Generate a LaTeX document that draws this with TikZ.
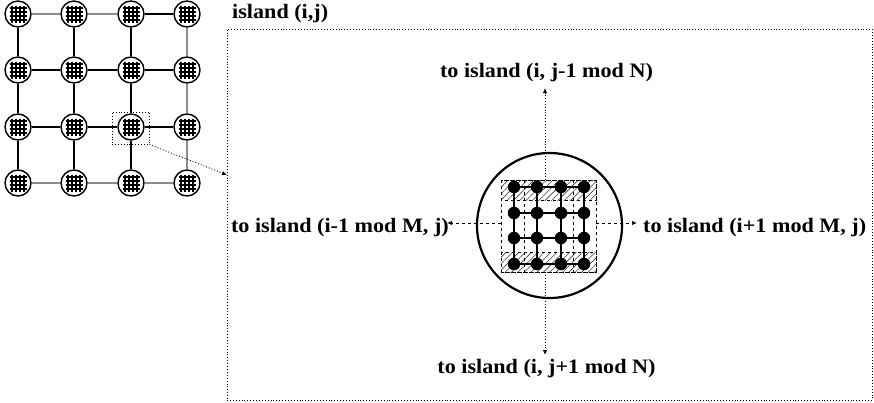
\documentclass[tikz,border=0pt]{standalone}
\usepackage{fontspec}
\setmainfont[FakeStretch=1.08]{Liberation Serif}
\usetikzlibrary{arrows.meta,patterns.meta}
\begin{document}
\begin{tikzpicture}[x=1pt,y=-1pt,
  lbl/.style={font=\fontsize{20.5}{24}\selectfont\bfseries, inner sep=0pt},
  smallisl/.style={circle, draw, line width=1.4pt, fill=white, minimum size=26pt, inner sep=0pt},
  smalllink/.style={line width=1.2pt},
  graylink/.style={line width=1.2pt, black!45},
  meshline/.style={line width=1.1pt},
  bigisl/.style={circle, draw, line width=2.2pt, minimum size=145pt, inner sep=0pt},
  innerdot/.style={circle, fill=black, minimum size=12.5pt, inner sep=0pt},
  innerlink/.style={line width=1.7pt},
  dashbox/.style={dashed, line width=0.7pt},
  hatch/.style={pattern={Lines[angle=45,distance=4.5pt,line width=0.6pt]}, pattern color=black!75},
  dotbox/.style={draw, dotted, line width=0.9pt, inner sep=0pt},
  arr/.style={-{Latex[length=5pt,width=4.5pt]}, line width=0.9pt}
]
\useasboundingbox (0,0) rectangle (874,402);

% ---------- small 4x4 array of islands ----------
\def\xa{18}\def\xb{74}\def\xc{131}\def\xd{187}
\def\ya{14}\def\yb{70}\def\yc{127}\def\yd{183}
\foreach \r/\yy in {1/\ya,2/\yb,3/\yc,4/\yd}{
  \foreach \c/\xx in {1/\xa,2/\xb,3/\xc,4/\xd}{
    \node[smallisl] (s\r\c) at (\xx,\yy) {};
  }
}
% links
\draw[graylink] (s11) -- (s12);
\draw[graylink] (s12) -- (s13);
\draw[smalllink] (s13) -- (s14);
\foreach \r in {2,3}{
  \draw[smalllink] (s\r1) -- (s\r2);
  \draw[smalllink] (s\r2) -- (s\r3);
  \draw[smalllink] (s\r3) -- (s\r4);
}
\draw[graylink] (s41) -- (s42);
\draw[graylink] (s42) -- (s43);
\draw[graylink] (s43) -- (s44);
\foreach \c in {1,2,3}{
  \draw[smalllink] (s1\c) -- (s2\c);
  \draw[smalllink] (s2\c) -- (s3\c);
  \draw[smalllink] (s3\c) -- (s4\c);
}
\draw[graylink] (s14) -- (s24);
\draw[graylink] (s24) -- (s34);
\draw[graylink] (s34) -- (s44);
% meshes inside small islands
\foreach \r in {1,2,3,4}{
  \foreach \c in {1,2,3,4}{
    \begin{scope}[shift={(s\r\c.center)}]
      \foreach \o in {-6,-2,2,6}{
        \draw[meshline] (\o,-8.5) -- (\o,8.5);
        \draw[meshline] (-8.5,\o) -- (8.5,\o);
      }
      \foreach \p in {-6,-2,2,6}{
        \foreach \q in {-6,-2,2,6}{
          \fill (\p,\q) circle (1.7);
        }
      }
    \end{scope}
  }
}
% zoom box
\node[dotbox, minimum width=37pt, minimum height=32pt] (zb) at (130.5,128) {};
\coordinate (ztip) at (227,175);
\draw[arr, dotted] (zb.south east) -- (ztip);

% ---------- big island ----------
\node[dotbox, minimum width=645pt, minimum height=371pt] (bigbox) at (549.5,214.5) {};
\node[lbl, anchor=west] (title) at (232,14) {island (i,j)};

\node[bigisl] (C) at (549.5,225.5) {};

% hatched bands
\fill[hatch] (501,180) rectangle (596,200);
\fill[hatch] (501,252) rectangle (596,272);
\draw[dashbox] (501,180) rectangle (596,200);
\draw[dashbox] (501,252) rectangle (596,272);
\node[draw, dashbox, minimum width=95pt, minimum height=92pt, inner sep=0pt] (R) at (548.5,226) {};
\draw[dashbox] (524,180) -- (524,272);
\draw[dashbox] (573,180) -- (573,272);

% inner grid of dots
\foreach \r/\yy in {1/187,2/213,3/238,4/264}{
  \foreach \c/\xx in {1/514,2/537,3/561,4/584}{
    \coordinate (d\r\c) at (\xx,\yy);
  }
}
\foreach \r in {1,2,3,4}{
  \draw[innerlink] (d\r1) -- (d\r4);
}
\foreach \c in {1,2,3,4}{
  \draw[innerlink] (d1\c) -- (d4\c);
}
\foreach \r in {1,2,3,4}{
  \foreach \c in {1,2,3,4}{
    \node[innerdot] (n\r\c) at (d\r\c) {};
  }
}

% ---------- neighbour labels and arrows ----------
\node[lbl] (tN) at (546.5,73) {to island (i, j-1 mod N)};
\node[lbl] (tS) at (546.5,369) {to island (i, j+1 mod N)};
\node[lbl, anchor=east] (tW) at (449,228) {to island (i-1 mod M, j)};
\node[lbl, anchor=west] (tE) at (643,228) {to island (i+1 mod M, j)};

\coordinate (rt) at (545,180);
\coordinate (rb) at (545,272);
\coordinate (rl) at (501,223);
\coordinate (rr) at (596,223);
\coordinate (aN) at (545,88);
\coordinate (aS) at (545,355);
\coordinate (aW) at (447,223);
\coordinate (aE) at (637,223);

\draw[arr, dotted] (rt) -- (aN);
\draw[arr, dotted] (rb) -- (aS);
\draw[arr, dashed] (rl) -- (aW);
\draw[arr, dashed] (rr) -- (aE);
\end{tikzpicture}
\end{document}
